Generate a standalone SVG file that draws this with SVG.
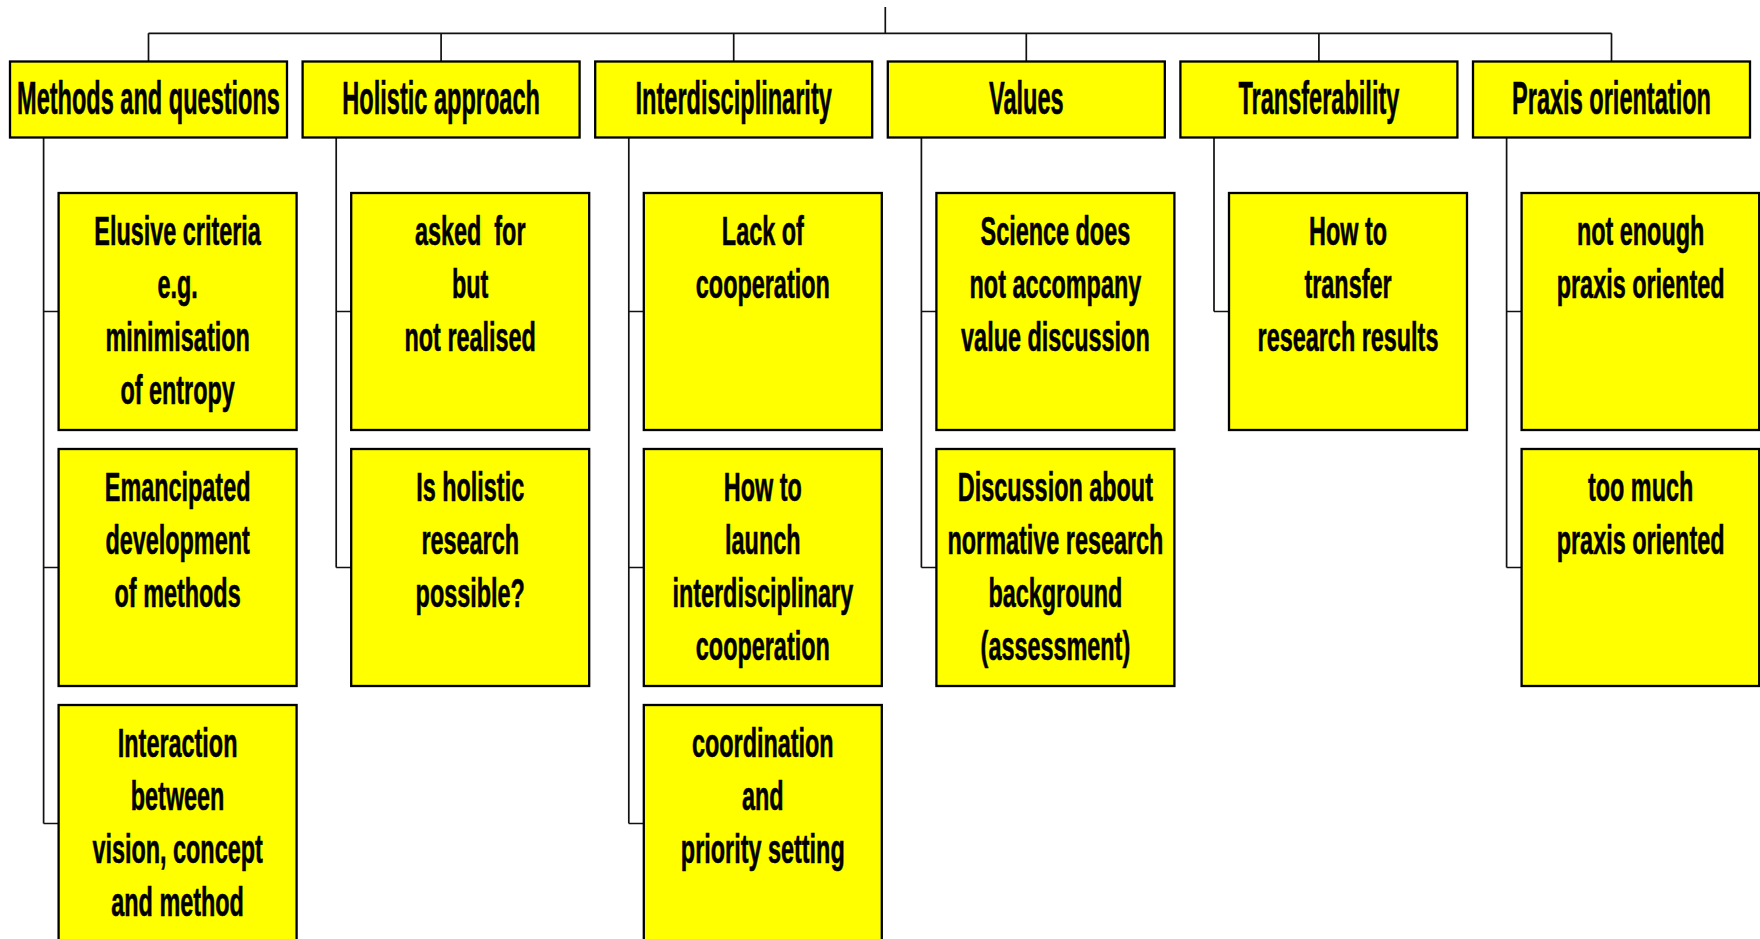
<svg xmlns="http://www.w3.org/2000/svg" width="1760" height="939" viewBox="0 0 1760 939">
<style>
.bg{fill:#ffffff}
.conn{stroke:#111;stroke-width:1.7;fill:none}
.box{fill:#ffff00;stroke:#000;stroke-width:2.3}
.ht{font-family:"Liberation Sans",Arial,sans-serif;font-weight:bold;font-size:46px;fill:#000;stroke:#000;stroke-width:0.6;text-anchor:middle}
.ct{font-family:"Liberation Sans",Arial,sans-serif;font-weight:bold;font-size:41px;fill:#000;stroke:#000;stroke-width:0.6;text-anchor:middle}
</style>
<rect class="bg" x="0" y="0" width="1760" height="939"/>
<g id="connectors" class="conn">
<path d="M885.3 7V33.3M148.5 33.3H1611.5"/>
<path d="M148.5 33.3V61.5M441.1 33.3V61.5M733.7 33.3V61.5M1026.3 33.3V61.5M1318.9 33.3V61.5M1611.5 33.3V61.5"/>
<path d="M43.6 137.5V823.5M43.6 311.5H58.6M43.6 567.5H58.6M43.6 823.5H58.6"/>
<path d="M336.2 137.5V567.5M336.2 311.5H351.2M336.2 567.5H351.2"/>
<path d="M628.8 137.5V823.5M628.8 311.5H643.8M628.8 567.5H643.8M628.8 823.5H643.8"/>
<path d="M921.4 137.5V567.5M921.4 311.5H936.4M921.4 567.5H936.4"/>
<path d="M1214 137.5V311.5M1214 311.5H1229"/>
<path d="M1506.6 137.5V567.5M1506.6 311.5H1521.6M1506.6 567.5H1521.6"/>
</g>
<g id="h-methods"><rect class="box" x="10" y="61.5" width="277" height="76"/><g transform="translate(148.5,0) scale(0.512,1)"><text class="ht" x="0" y="114">Methods and questions</text></g></g>
<g id="h-holistic"><rect class="box" x="302.6" y="61.5" width="277" height="76"/><g transform="translate(441.1,0) scale(0.512,1)"><text class="ht" x="0" y="114">Holistic approach</text></g></g>
<g id="h-interdisc"><rect class="box" x="595.2" y="61.5" width="277" height="76"/><g transform="translate(733.7,0) scale(0.512,1)"><text class="ht" x="0" y="114">Interdisciplinarity</text></g></g>
<g id="h-values"><rect class="box" x="887.8" y="61.5" width="277" height="76"/><g transform="translate(1026.3,0) scale(0.512,1)"><text class="ht" x="0" y="114">Values</text></g></g>
<g id="h-transfer"><rect class="box" x="1180.4" y="61.5" width="277" height="76"/><g transform="translate(1318.9,0) scale(0.512,1)"><text class="ht" x="0" y="114">Transferability</text></g></g>
<g id="h-praxis"><rect class="box" x="1473" y="61.5" width="277" height="76"/><g transform="translate(1611.5,0) scale(0.512,1)"><text class="ht" x="0" y="114">Praxis orientation</text></g></g>

<g id="c-elusive"><rect class="box" x="58.6" y="193" width="238" height="237"/><g transform="translate(177.6,0) scale(0.571,1)"><text class="ct" y="245.5"><tspan x="0">Elusive criteria</tspan><tspan x="0" dy="53">e.g.</tspan><tspan x="0" dy="53">minimisation</tspan><tspan x="0" dy="53">of entropy</tspan></text></g></g>
<g id="c-emancipated"><rect class="box" x="58.6" y="449" width="238" height="237"/><g transform="translate(177.6,0) scale(0.571,1)"><text class="ct" y="501.5"><tspan x="0">Emancipated</tspan><tspan x="0" dy="53">development</tspan><tspan x="0" dy="53">of methods</tspan></text></g></g>
<g id="c-interaction"><rect class="box" x="58.6" y="705" width="238" height="237"/><g transform="translate(177.6,0) scale(0.571,1)"><text class="ct" y="757.5"><tspan x="0">Interaction</tspan><tspan x="0" dy="53">between</tspan><tspan x="0" dy="53">vision, concept</tspan><tspan x="0" dy="53">and method</tspan></text></g></g>

<g id="c-asked"><rect class="box" x="351.2" y="193" width="238" height="237"/><g transform="translate(470.2,0) scale(0.571,1)"><text class="ct" y="245.5"><tspan x="0">asked&#160; for</tspan><tspan x="0" dy="53">but</tspan><tspan x="0" dy="53">not realised</tspan></text></g></g>
<g id="c-isholistic"><rect class="box" x="351.2" y="449" width="238" height="237"/><g transform="translate(470.2,0) scale(0.571,1)"><text class="ct" y="501.5"><tspan x="0">Is holistic</tspan><tspan x="0" dy="53">research</tspan><tspan x="0" dy="53">possible?</tspan></text></g></g>

<g id="c-lack"><rect class="box" x="643.8" y="193" width="238" height="237"/><g transform="translate(762.8,0) scale(0.571,1)"><text class="ct" y="245.5"><tspan x="0">Lack of</tspan><tspan x="0" dy="53">cooperation</tspan></text></g></g>
<g id="c-launch"><rect class="box" x="643.8" y="449" width="238" height="237"/><g transform="translate(762.8,0) scale(0.571,1)"><text class="ct" y="501.5"><tspan x="0">How to</tspan><tspan x="0" dy="53">launch</tspan><tspan x="0" dy="53">interdisciplinary</tspan><tspan x="0" dy="53">cooperation</tspan></text></g></g>
<g id="c-coord"><rect class="box" x="643.8" y="705" width="238" height="237"/><g transform="translate(762.8,0) scale(0.571,1)"><text class="ct" y="757.5"><tspan x="0">coordination</tspan><tspan x="0" dy="53">and</tspan><tspan x="0" dy="53">priority setting</tspan></text></g></g>

<g id="c-science"><rect class="box" x="936.4" y="193" width="238" height="237"/><g transform="translate(1055.4,0) scale(0.571,1)"><text class="ct" y="245.5"><tspan x="0">Science does</tspan><tspan x="0" dy="53">not accompany</tspan><tspan x="0" dy="53">value discussion</tspan></text></g></g>
<g id="c-discussion"><rect class="box" x="936.4" y="449" width="238" height="237"/><g transform="translate(1055.4,0) scale(0.571,1)"><text class="ct" y="501.5"><tspan x="0">Discussion about</tspan><tspan x="0" dy="53">normative research</tspan><tspan x="0" dy="53">background</tspan><tspan x="0" dy="53">(assessment)</tspan></text></g></g>

<g id="c-transfer"><rect class="box" x="1229" y="193" width="238" height="237"/><g transform="translate(1348,0) scale(0.571,1)"><text class="ct" y="245.5"><tspan x="0">How to</tspan><tspan x="0" dy="53">transfer</tspan><tspan x="0" dy="53">research results</tspan></text></g></g>

<g id="c-notenough"><rect class="box" x="1521.6" y="193" width="237.6" height="237"/><g transform="translate(1640.6,0) scale(0.571,1)"><text class="ct" y="245.5"><tspan x="0">not enough</tspan><tspan x="0" dy="53">praxis oriented</tspan></text></g></g>
<g id="c-toomuch"><rect class="box" x="1521.6" y="449" width="237.6" height="237"/><g transform="translate(1640.6,0) scale(0.571,1)"><text class="ct" y="501.5"><tspan x="0">too much</tspan><tspan x="0" dy="53">praxis oriented</tspan></text></g></g>
</svg>
